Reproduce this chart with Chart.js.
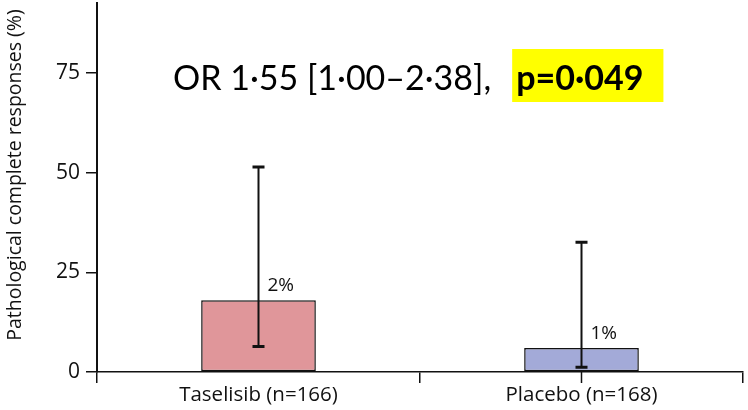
<!DOCTYPE html>
<html>
<head>
<meta charset="utf-8">
<script src="https://cdn.jsdelivr.net/npm/chart.js@4"></script>
<style>
  html, body { margin: 0; padding: 0; background: #ffffff; }
  #wrap { width: 748px; height: 410px; }
</style>
</head>
<body>
<div id="wrap"><canvas id="c" width="748" height="410"></canvas></div>
<script>
// Pathological complete responses by arm, with 95% CI
const categories = ['Taselisib (n=166)', 'Placebo (n=168)'];
const responseRates = [18, 6];
const ciLower = [6.4, 1.2];
const ciUpper = [51.4, 32.5];
const valueLabels = ['2%', '1%'];
const yTicks = [0, 25, 50, 75];
const yMax = 92.5;
const yTitle = 'Pathological complete responses (%)';
const oddsRatioText = 'OR 1\u00B755 [1\u00B700\u20132\u00B738],';
const pValueText = 'p=0\u00B7049';

const barFills = ['#e0969a', '#a3aad8'];
const ink = '#111111';
const axisFont = '"Open Sans", sans-serif';

// whiskers, value labels, axis title and the odds-ratio note
const overlay = {
  id: 'overlay',
  afterDatasetsDraw(chart) {
    const ctx = chart.ctx;
    const y = chart.scales.y;
    const x = chart.scales.x;
    const meta = chart.getDatasetMeta(0);
    ctx.save();
    meta.data.forEach((bar, i) => {
      const cx = bar.x;
      const top = y.getPixelForValue(ciUpper[i]);
      const bot = y.getPixelForValue(ciLower[i]);
      ctx.strokeStyle = ink;
      ctx.lineWidth = 2;
      ctx.beginPath();
      ctx.moveTo(cx, top);
      ctx.lineTo(cx, bot);
      ctx.stroke();
      ctx.lineWidth = 3;
      ctx.beginPath();
      ctx.moveTo(cx - 6, top); ctx.lineTo(cx + 6, top);
      ctx.moveTo(cx - 6, bot); ctx.lineTo(cx + 6, bot);
      ctx.stroke();
      // value label beside the whisker
      ctx.fillStyle = ink;
      ctx.font = '19px ' + axisFont;
      ctx.textAlign = 'left';
      ctx.textBaseline = 'alphabetic';
      ctx.fillText(valueLabels[i], cx + 9, bar.y - 9);
    });
    // short tick under the placebo column
    const px = x.getPixelForValue(1);
    ctx.lineWidth = 1.5;
    ctx.beginPath();
    ctx.moveTo(px, x.top);
    ctx.lineTo(px, x.top + 11);
    ctx.stroke();

    // rotated y-axis title
    ctx.save();
    ctx.translate(21, 175);
    ctx.rotate(-Math.PI / 2);
    ctx.font = '19.5px ' + axisFont;
    ctx.fillStyle = ink;
    ctx.textAlign = 'center';
    ctx.textBaseline = 'alphabetic';
    ctx.fillText(yTitle, 0, 0);
    ctx.restore();

    // odds-ratio note with highlighted p value
    ctx.textBaseline = 'alphabetic';
    ctx.textAlign = 'left';
    const baseY = 90;
    const startX = 173;
    ctx.font = '34px Lato, sans-serif';
    const w1 = ctx.measureText(oddsRatioText).width;
    ctx.fillStyle = '#000000';
    ctx.fillText(oddsRatioText, startX, baseY);
    ctx.font = 'bold 34px Lato, sans-serif';
    const w2 = ctx.measureText(pValueText).width;
    const bx = startX + w1 + 25;
    ctx.fillStyle = '#ffff00';
    ctx.fillRect(bx - 4, 49, w2 + 24, 53);
    ctx.fillStyle = '#000000';
    ctx.fillText(pValueText, bx, baseY);
    ctx.restore();
  }
};

new Chart(document.getElementById('c'), {
  type: 'bar',
  data: {
    labels: categories,
    datasets: [{
      data: responseRates,
      backgroundColor: barFills,
      borderColor: ink,
      borderWidth: 1.5,
      borderSkipped: false,
      barPercentage: 0.71,
      categoryPercentage: 0.5
    }]
  },
  options: {
    responsive: false,
    animation: false,
    devicePixelRatio: 1,
    layout: { padding: { top: 3, right: 5, left: 0, bottom: 0 } },
    plugins: {
      legend: { display: false },
      tooltip: { enabled: false }
    },
    scales: {
      x: {
        offset: true,
        grid: {
          offset: true,
          drawOnChartArea: false,
          drawTicks: true,
          tickLength: 11,
          color: ink,
          lineWidth: 1.5
        },
        border: { display: true, color: ink, width: 1.5 },
        ticks: {
          color: ink,
          font: { family: axisFont, size: 20.5 },
          padding: 0,
          maxRotation: 0
        },
        afterFit(scale) {
          scale.height = 38;
          scale.paddingLeft = 0;
          scale.paddingRight = 0;
        }
      },
      y: {
        min: 0,
        max: yMax,
        afterBuildTicks(scale) { scale.ticks = yTicks.map(v => ({ value: v })); },
        grid: {
          drawOnChartArea: false,
          drawTicks: true,
          tickLength: 11,
          color: ink,
          lineWidth: 1.5
        },
        border: { display: true, color: ink, width: 2 },
        ticks: {
          color: ink,
          font: { family: axisFont, size: 21 },
          padding: 6
        },
        afterFit(scale) {
          scale.width = 97;
          scale.paddingTop = 0;
          scale.paddingBottom = 0;
        }
      }
    }
  },
  plugins: [overlay]
});
</script>
</body>
</html>
